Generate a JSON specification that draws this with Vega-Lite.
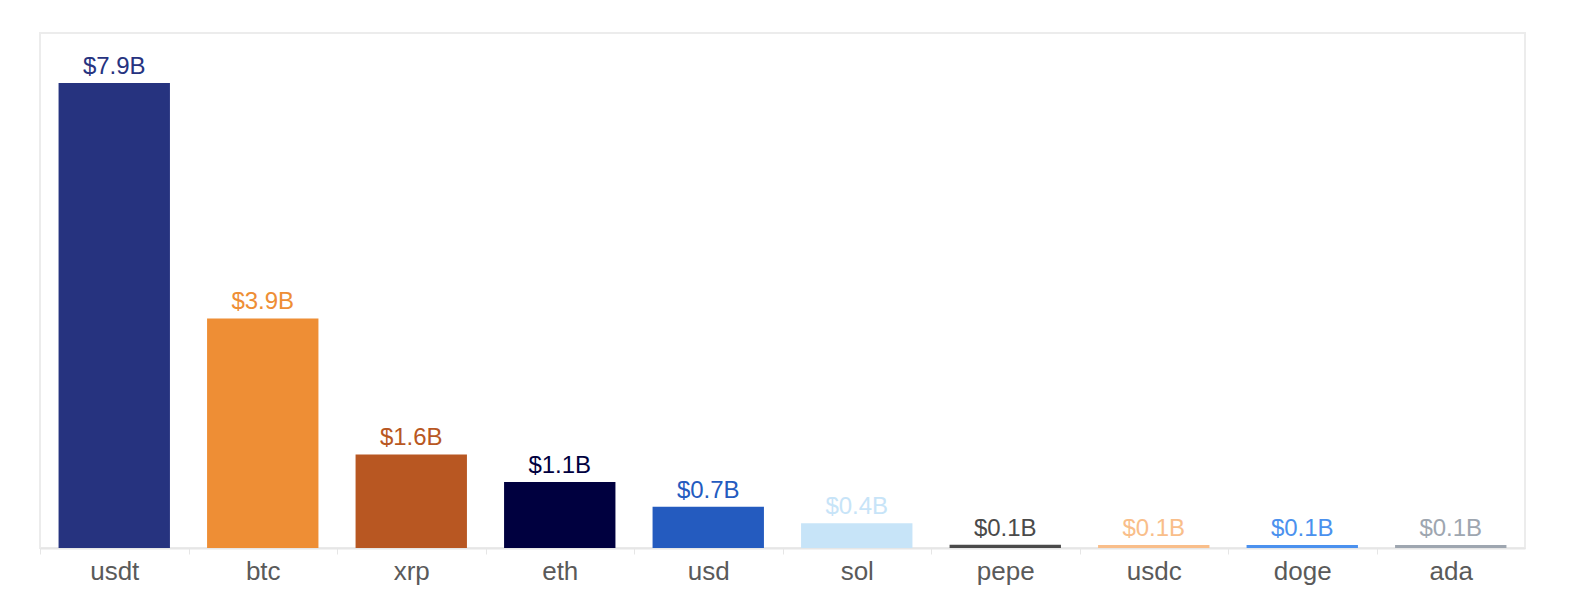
{
  "$schema": "https://vega.github.io/schema/vega-lite/v6.json",
  "width": 1485,
  "height": 515,
  "autosize": {"type": "none"},
  "padding": {"left": 40, "top": 33, "right": 55, "bottom": 58},
  "background": "white",
  "config": {
    "view": {"stroke": "#ececec", "strokeWidth": 2},
    "font": "Liberation Sans"
  },
  "data": {
    "values": [
      {"coin": "usdt", "value": 7.9, "label": "$7.9B", "color": "#26337F"},
      {"coin": "btc", "value": 3.9, "label": "$3.9B", "color": "#EE8E35"},
      {"coin": "xrp", "value": 1.59, "label": "$1.6B", "color": "#B85722"},
      {"coin": "eth", "value": 1.12, "label": "$1.1B", "color": "#00003F"},
      {"coin": "usd", "value": 0.7, "label": "$0.7B", "color": "#245BBF"},
      {"coin": "sol", "value": 0.42, "label": "$0.4B", "color": "#C7E4F8"},
      {"coin": "pepe", "value": 0.055, "label": "$0.1B", "color": "#4A4A4A"},
      {"coin": "usdc", "value": 0.05, "label": "$0.1B", "color": "#F9BE8A"},
      {"coin": "doge", "value": 0.05, "label": "$0.1B", "color": "#4B91EE"},
      {"coin": "ada", "value": 0.05, "label": "$0.1B", "color": "#9EA6B0"}
    ]
  },
  "encoding": {
    "x": {
      "field": "coin",
      "type": "nominal",
      "sort": null,
      "scale": {"paddingInner": 0.25, "paddingOuter": 0.125},
      "axis": {
        "title": null,
        "labelAngle": 0,
        "labelFontSize": 26,
        "labelColor": "#5a5a5a",
        "labelPadding": 4,
        "tickOffset": -74.25,
        "labelOffset": 74.25,
        "tickSize": 6,
        "tickColor": "#e6e6e6",
        "domainColor": "#e6e6e6",
        "domainWidth": 2
      }
    },
    "y": {
      "field": "value",
      "type": "quantitative",
      "scale": {"domain": [0, 8.75], "nice": false},
      "axis": null
    },
    "color": {"field": "color", "type": "nominal", "scale": null, "legend": null}
  },
  "layer": [
    {"mark": {"type": "bar"}},
    {
      "mark": {"type": "text", "baseline": "alphabetic", "dy": -9, "fontSize": 24},
      "encoding": {"text": {"field": "label"}}
    }
  ]
}
